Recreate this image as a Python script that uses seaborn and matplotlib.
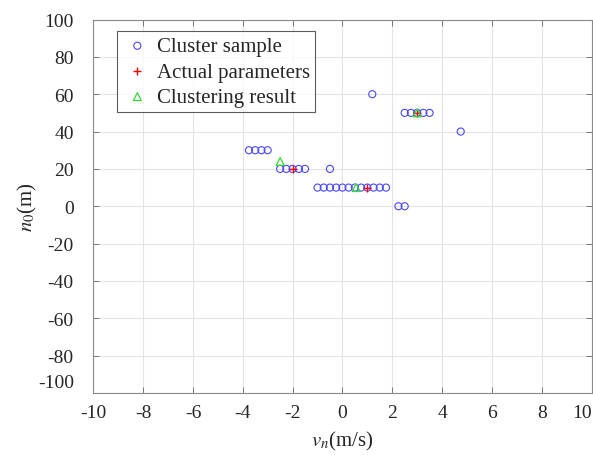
import matplotlib
matplotlib.use("Agg")
import matplotlib.pyplot as plt
import matplotlib.transforms as mtransforms
import seaborn as sns
import pandas as pd

# Cluster samples
sample_v = [1.2,
            2.5, 2.75, 3.0, 3.25, 3.5,
            4.75,
            -3.75, -3.5, -3.25, -3.0,
            -2.5, -2.25, -2.0, -1.75, -1.5,
            -0.5,
            -1.0, -0.75, -0.5, -0.25, 0.0, 0.25, 0.5, 0.75, 1.0, 1.25, 1.5, 1.75,
            2.25, 2.5]
sample_n = [60,
            50, 50, 50, 50, 50,
            40,
            30, 30, 30, 30,
            20, 20, 20, 20, 20,
            20,
            10, 10, 10, 10, 10, 10, 10, 10, 10, 10, 10, 10,
            0, 0]

# Actual parameters
actual_v = [3.0, -2.0, 1.0]
actual_n = [50, 20, 10]

# Clustering result
result_v = [3.0, -2.5, 0.55]
result_n = [50, 24, 10]

xticks = [-10, -8, -6, -4, -2, 0, 2, 4, 6, 8, 10]
yticks = [-100, -80, -60, -40, -20, 0, 20, 40, 60, 80, 100]

sns.set_style("white")
plt.rcParams['font.family'] = ['Liberation Serif', 'DejaVu Serif']
plt.rcParams['mathtext.fontset'] = 'stix'

fig = plt.figure(figsize=(5.93, 4.56), dpi=100)
ax = fig.add_axes([93.3/593, 62/456, 498.2/593, 373.5/456])

df_s = pd.DataFrame({"v": sample_v, "n": sample_n})
df_a = pd.DataFrame({"v": actual_v, "n": actual_n})
df_r = pd.DataFrame({"v": result_v, "n": result_n})

sns.scatterplot(data=df_s, x="v", y="n", ax=ax, marker="o", s=26,
                facecolors="none", edgecolor="#4848ff", linewidth=0.8,
                label="Cluster sample", zorder=3)
sns.scatterplot(data=df_a, x="v", y="n", ax=ax, marker="+", s=32,
                color="#ff0000", linewidth=1.0,
                label="Actual parameters", zorder=4)
sns.scatterplot(data=df_r, x="v", y="n", ax=ax, marker="^", s=32,
                facecolors="none", edgecolor="#33dd33", linewidth=0.9,
                label="Clustering result", zorder=5)

ax.set_xlim(-10, 10)
ax.set_ylim(-100, 100)
ax.set_xticks(xticks)
ax.set_yticks(yticks)
ax.set_xticklabels([str(t) for t in xticks], fontsize=14)
ax.set_yticklabels([str(t) for t in yticks], fontsize=14)
ax.grid(True, color="#e3e3e3", linewidth=0.8)
ax.set_axisbelow(True)
for sp in ax.spines.values():
    sp.set_color("#8a8a8a")
    sp.set_linewidth(0.8)
ax.tick_params(direction="in", length=4, width=0.6, color="#666666",
               top=True, right=True, bottom=True, left=True)
ax.tick_params(axis="x", pad=8)
ax.tick_params(axis="y", pad=14)

# keep the last x label inside the figure, lift the lowest y label
ax.get_xticklabels()[-1].set_horizontalalignment("right")
lbl = ax.get_yticklabels()[0]
lbl.set_transform(lbl.get_transform() +
                  mtransforms.ScaledTranslation(0, 0.12, fig.dpi_scale_trans))

ax.set_xlabel("$v_n$(m/s)", fontsize=15, labelpad=6)
ax.set_ylabel("$n_0$(m)", fontsize=15, labelpad=-1)

leg = ax.legend(loc="upper left", bbox_to_anchor=(0.0476, 0.968),
                borderaxespad=0, fontsize=15, frameon=True, fancybox=False,
                handletextpad=0.2, borderpad=0.25, labelspacing=0.28,
                handlelength=1.45)
leg.get_frame().set_edgecolor("#333333")
leg.get_frame().set_linewidth(0.8)

fig.savefig("out.png", dpi=100)
